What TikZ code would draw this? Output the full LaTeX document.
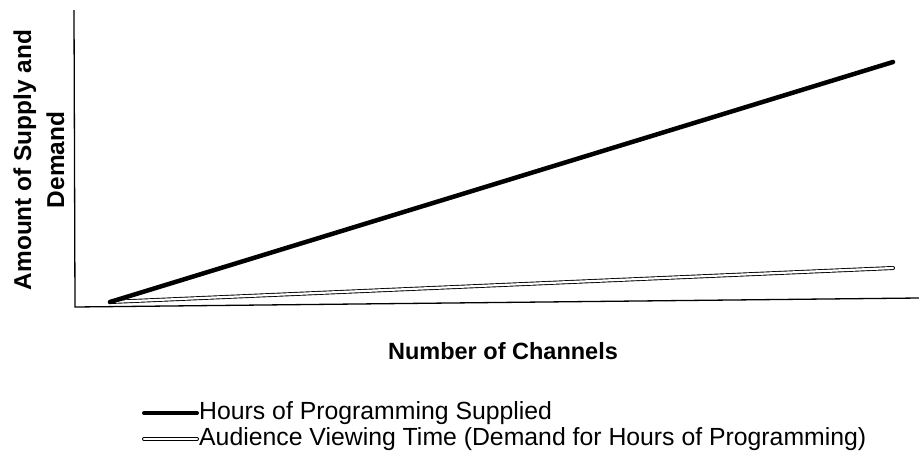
\documentclass[tikz,border=0pt]{standalone}
\usepackage{fontspec}
\setmainfont{Liberation Sans}
\begin{document}
\begin{tikzpicture}[x=1pt,y=-1pt,
  axis/.style={line width=1.3pt,black},
  supply/.style={line width=4.5pt,black,line cap=round},
  demand/.style={double=white,double distance=2.2pt,line width=0.9pt,black,line cap=round},
  lbl/.style={font=\bfseries\fontsize{23.5}{32}\selectfont,inner sep=0pt},
  ylbl/.style={font=\bfseries\fontsize{24.4}{33}\selectfont,inner sep=0pt},
  leg/.style={font=\fontsize{24.8}{28}\selectfont,inner sep=0pt,anchor=west}]
\useasboundingbox (0,0) rectangle (919,464);
\coordinate (ytop) at (74,10);
\coordinate (orig) at (75,307);
\coordinate (xend) at (919,298);
\draw[axis] (ytop) -- (orig) -- (xend);
\coordinate (s0) at (110,302);
\coordinate (s1) at (893,62);
\coordinate (d0) at (110,302);
\coordinate (d1) at (893,268);
\draw[demand] (d0) -- (d1);
\draw[supply] (s0) -- (s1);
\node[ylbl,rotate=90,align=center] (ylab) at (39,160) {Amount of Supply and\\Demand};
\node[lbl] (xlab) at (503,351) {Number of Channels};
\coordinate (l1a) at (144,413);
\coordinate (l1b) at (197,413);
\draw[supply,line width=4pt] (l1a) -- (l1b);
\node[leg] (t1) at (199,413) {Hours of Programming Supplied};
\coordinate (l2a) at (144,439);
\coordinate (l2b) at (197,439);
\draw[demand] (l2a) -- (l2b);
\node[leg] (t2) at (199,439) {Audience Viewing Time (Demand for Hours of Programming)};
\end{tikzpicture}
\end{document}
